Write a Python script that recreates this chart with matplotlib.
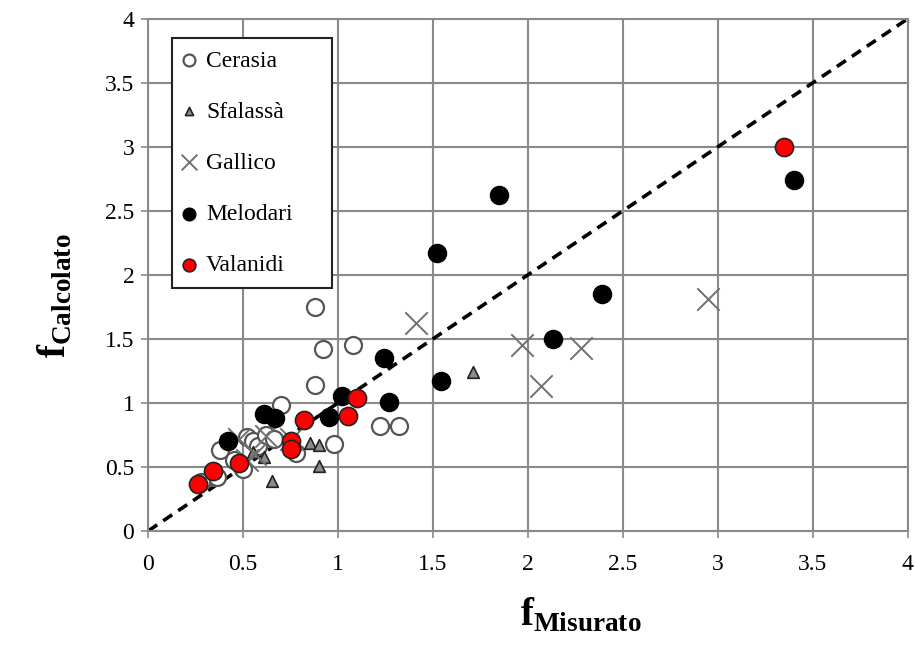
import matplotlib
matplotlib.use("Agg")
import matplotlib.pyplot as plt

plt.rcParams['font.family'] = ['Liberation Serif', 'DejaVu Serif']
plt.rcParams['mathtext.fontset'] = 'custom'
plt.rcParams['mathtext.rm'] = 'Liberation Serif'
plt.rcParams['mathtext.bf'] = 'Liberation Serif:bold'

# dati
cerasia_x = [0.88, 0.92, 1.08, 0.88, 0.70, 1.22, 1.32, 0.98, 0.78, 0.38, 0.34, 0.45, 0.52, 0.55, 0.58, 0.62, 0.50, 0.66, 0.36, 0.28]
cerasia_y = [1.75, 1.42, 1.45, 1.14, 0.98, 0.82, 0.82, 0.68, 0.61, 0.63, 0.42, 0.55, 0.73, 0.70, 0.66, 0.75, 0.48, 0.72, 0.42, 0.38]
sfalassa_x = [1.71, 0.65, 0.90, 0.85, 0.90, 0.61, 0.55]
sfalassa_y = [1.24, 0.39, 0.51, 0.69, 0.67, 0.58, 0.62]
gallico_x = [1.41, 1.97, 2.07, 2.28, 2.95, 0.48, 0.56, 0.62, 0.75, 0.52]
gallico_y = [1.62, 1.45, 1.13, 1.43, 1.81, 0.72, 0.60, 0.74, 0.72, 0.55]
melodari_x = [3.40, 1.85, 1.52, 2.39, 2.13, 1.24, 1.54, 1.27, 1.02, 0.95, 0.61, 0.67, 0.42]
melodari_y = [2.74, 2.62, 2.17, 1.85, 1.50, 1.35, 1.17, 1.01, 1.05, 0.89, 0.91, 0.88, 0.70]
valanidi_x = [3.35, 1.10, 1.05, 0.82, 0.75, 0.75, 0.48, 0.34, 0.26]
valanidi_y = [3.00, 1.04, 0.90, 0.87, 0.70, 0.64, 0.53, 0.47, 0.37]

ticks = [0, 0.5, 1, 1.5, 2, 2.5, 3, 3.5, 4]
tick_labels = ['0', '0.5', '1', '1.5', '2', '2.5', '3', '3.5', '4']

fig = plt.figure(figsize=(9.15, 6.49), dpi=100)
ax = fig.add_axes([0.162, 0.182, 0.83, 0.789])

ax.plot([0, 4], [0, 4], color='black', lw=2.6, ls=(0, (3, 2)), zorder=2)

ax.scatter(cerasia_x, cerasia_y, s=150, facecolor='white', edgecolor='#555555', lw=1.6, label='Cerasia', zorder=3)
ax.scatter(sfalassa_x, sfalassa_y, s=70, marker='^', facecolor='#8c8c8c', edgecolor='#222222', lw=1.2, label='Sfalassà', zorder=3)
ax.scatter(gallico_x, gallico_y, s=260, marker='x', color='#707070', lw=1.4, label='Gallico', zorder=3)
ax.scatter(melodari_x, melodari_y, s=170, facecolor='black', edgecolor='black', lw=1, label='Melodari', zorder=4)
ax.scatter(valanidi_x, valanidi_y, s=170, facecolor='#ff0000', edgecolor='#222222', lw=1.2, label='Valanidi', zorder=5)

ax.set_xlim(0, 4)
ax.set_ylim(0, 4)
ax.set_xticks(ticks)
ax.set_xticklabels(tick_labels)
ax.set_yticks(ticks)
ax.set_yticklabels(tick_labels)
ax.tick_params(labelsize=17, length=5, color='#888888', width=1.2)
ax.tick_params(axis='x', pad=12)
ax.tick_params(axis='y', pad=5)
ax.grid(True, color='#8a8a8a', lw=1.5, zorder=0)
ax.set_axisbelow(True)
for sp in ax.spines.values():
    sp.set_color('#8a8a8a')
    sp.set_linewidth(1.5)

ax.set_xlabel(r'$\mathbf{f}_{\mathbf{Misurato}}$', fontsize=28)
ax.xaxis.set_label_coords(0.569, -0.128)
ax.set_ylabel(r'$\mathbf{f}_{\mathbf{Calcolato}}$', fontsize=28)
ax.yaxis.set_label_coords(-0.097, 0.46)

leg = ax.legend(loc='upper left', bbox_to_anchor=(0.031, 0.5, 0.211, 0.462), mode='expand',
                borderaxespad=0, fontsize=17, markerscale=0.7, handletextpad=0.5,
                handlelength=0.45, labelspacing=1.25, borderpad=0.5, fancybox=False, framealpha=1)
leg.get_frame().set_edgecolor('#222222')
leg.get_frame().set_linewidth(1.5)

fig.savefig('out.png', dpi=100)
